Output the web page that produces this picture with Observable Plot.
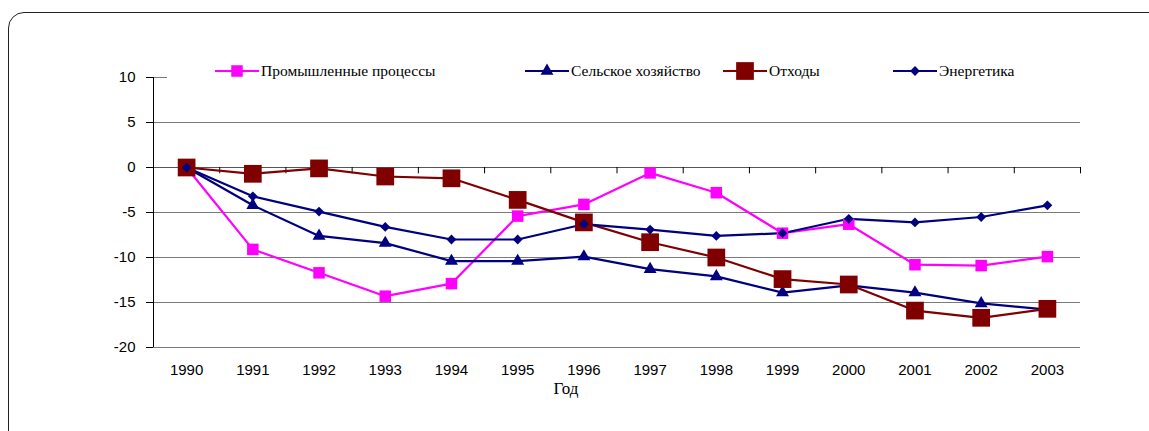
<!DOCTYPE html>
<html><head><meta charset="utf-8">
<script src="https://cdn.jsdelivr.net/npm/d3@7"></script>
<script src="https://cdn.jsdelivr.net/npm/@observablehq/plot@0.6"></script>
<style>
html,body{margin:0;padding:0;background:#fff;overflow:hidden;}
#wrap{position:relative;width:1149px;height:431px;overflow:hidden;}
#frame{position:absolute;left:8px;top:12px;width:1180px;height:460px;border:1px solid #222;border-radius:16px;box-sizing:border-box;}
#chart{position:absolute;left:0;top:0;}
#legend{position:absolute;left:167px;top:57px;width:913px;height:27px;background:#fff;font-family:"Liberation Serif","Times New Roman",serif;font-size:15.5px;color:#000;}
.item{position:absolute;top:0;height:27px;display:flex;align-items:center;white-space:nowrap;}
.item svg{display:block;margin-right:2px;}
#xlabel{position:absolute;left:516px;width:100px;text-align:center;top:379px;font-family:"Liberation Serif","Times New Roman",serif;font-size:17px;color:#000;}
</style>
</head><body>
<div id="wrap">
  <div id="chart"></div>
  <div id="legend"></div>
  <div id="xlabel">Год</div>
  <div id="frame"></div>
</div>
<script>
const years = [1990,1991,1992,1993,1994,1995,1996,1997,1998,1999,2000,2001,2002,2003];
const yTicks = [-20,-15,-10,-5,0,5,10];
const seriesNames = ["Промышленные процессы","Сельское хозяйство","Отходы","Энергетика"];
const promProc = [0,-9.1,-11.7,-14.3,-12.9,-5.4,-4.1,-0.6,-2.8,-7.3,-6.3,-10.8,-10.9,-9.9];
const selKhoz  = [0,-4.2,-7.6,-8.4,-10.4,-10.4,-9.9,-11.3,-12.1,-13.9,-13.1,-13.9,-15.1,-15.8];
const otkhody  = [0,-0.7,-0.1,-1.0,-1.2,-3.6,-6.1,-8.3,-10.0,-12.4,-13.0,-15.9,-16.7,-15.7];
const energ    = [0,-3.2,-4.9,-6.6,-8.0,-8.0,-6.3,-6.9,-7.6,-7.3,-5.7,-6.1,-5.5,-4.2];
const seriesColors = ["#FF00FF","#000080","#800000","#000080"];
const seriesSymbols = ["square","triangle","square","diamond2"];
const seriesR = [6.5,4.8,10,4.4];

const allValues = [promProc, selKhoz, otkhody, energ];
const series = seriesNames.map((name,i)=>({
  name, color: seriesColors[i], symbol: seriesSymbols[i], r: seriesR[i],
  rows: years.map((yr,j)=>({year: yr, value: allValues[i][j], name}))
}));
const bounds = [years[0]-0.5, ...years.map(y=>y+0.5)];

const marks = [
  Plot.ruleY(yTicks.filter(t=>t!==0), {stroke:"#7a7a7a", strokeWidth:1.2}),
  Plot.ruleY([0], {stroke:"#555", strokeWidth:1.2}),
  Plot.ruleX(bounds, {y1:0, y2:-0.7, stroke:"#000", strokeWidth:1}),
  Plot.ruleX([bounds[0]], {stroke:"#000", strokeWidth:1}),
  Plot.axisY({ticks: yTicks, tickSize:7, tickPadding:11, fontSize:15, label:null, tickFormat: d=>String(d)}),
  Plot.axisX({ticks: years, tickSize:0, tickPadding:17, fontSize:15, label:null, tickFormat: d=>String(d)}),
];
for (const i of [0,1,2,3]) {
  const s = series[i];
  marks.push(Plot.line(s.rows, {x:"year", y:"value", stroke:s.color, strokeWidth:2.2}));
}
for (const i of [0,1,2,3]) {
  const s = series[i];
  marks.push(Plot.dot(s.rows, {x:"year", y:"value", symbol: s.symbol, r: s.r, fill: s.color, stroke:"none"}));
}

const plot = Plot.plot({
  width: 1149, height: 431,
  marginLeft: 153, marginRight: 69, marginTop: 77, marginBottom: 84,
  x: {type:"linear", domain:[bounds[0], bounds[bounds.length-1]]},
  y: {domain:[-20,10]},
  style: {fontFamily:"'Liberation Sans', Arial, sans-serif", color:"#000", background:"transparent"},
  marks
});
document.getElementById("chart").appendChild(plot);

// legend
const legendPos = [48, 358, 556, 726];
const legend = document.getElementById("legend");
const symMap = {square: d3.symbolSquare, triangle: d3.symbolTriangle, diamond2: d3.symbolDiamond2};
series.forEach((s,i)=>{
  const item = document.createElement("div");
  item.className = "item";
  item.style.left = legendPos[i] + "px";
  const sw = d3.create("svg").attr("width", 44).attr("height", 22);
  sw.append("line").attr("x1",0).attr("x2",44).attr("y1",11).attr("y2",11).attr("stroke",s.color).attr("stroke-width",2.2);
  sw.append("path").attr("transform","translate(22,11)").attr("fill",s.color)
    .attr("d", d3.symbol(symMap[s.symbol], Math.PI*s.r*s.r)());
  item.appendChild(sw.node());
  const t = document.createElement("span");
  t.textContent = s.name;
  item.appendChild(t);
  legend.appendChild(item);
});
</script>
</body></html>
